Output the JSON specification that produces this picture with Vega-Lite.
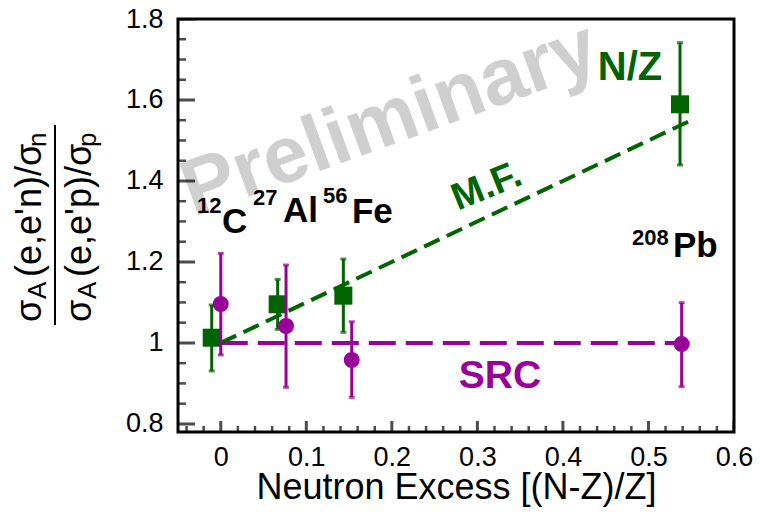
{
  "$schema": "https://vega.github.io/schema/vega-lite/v6.json",
  "width": 556,
  "height": 413,
  "autosize": {"type": "none"},
  "padding": {"left": 178, "top": 19, "right": 27, "bottom": 85},
  "background": "white",
  "config": {
    "view": {"stroke": "black", "strokeWidth": 3},
    "font": "Liberation Sans"
  },
  "datasets": {
    "nz": [
      {"x": -0.0106, "y": 1.0129, "lo": 0.9307, "hi": 1.0937},
      {"x": 0.0665, "y": 1.0954, "lo": 1.0336, "hi": 1.157},
      {"x": 0.1433, "y": 1.1167, "lo": 1.0262, "hi": 1.2073},
      {"x": 0.5369, "y": 1.5893, "lo": 1.4394, "hi": 1.7415}
    ],
    "src": [
      {"x": 0.0, "y": 1.0961, "lo": 0.9702, "hi": 1.2213},
      {"x": 0.0763, "y": 1.0418, "lo": 0.8904, "hi": 1.1924},
      {"x": 0.1531, "y": 0.9578, "lo": 0.8657, "hi": 1.0524},
      {"x": 0.5388, "y": 0.9973, "lo": 0.8919, "hi": 1.0994}
    ],
    "mfline": [{"x": 0.0, "y": 1.0}, {"x": 0.547, "y": 1.547}],
    "srcline": [{"x": 0.0, "y": 1.0}, {"x": 0.548, "y": 1.0}],
    "xmaj": [{"v": 0}, {"v": 0.1}, {"v": 0.2}, {"v": 0.3}, {"v": 0.4}, {"v": 0.5}, {"v": 0.6}],
    "xmin": [{"v": -0.04}, {"v": -0.02}, {"v": 0.02}, {"v": 0.04}, {"v": 0.06}, {"v": 0.08}, {"v": 0.12}, {"v": 0.14}, {"v": 0.16}, {"v": 0.18}, {"v": 0.22}, {"v": 0.24}, {"v": 0.26}, {"v": 0.28}, {"v": 0.32}, {"v": 0.34}, {"v": 0.36}, {"v": 0.38}, {"v": 0.42}, {"v": 0.44}, {"v": 0.46}, {"v": 0.48}, {"v": 0.52}, {"v": 0.54}, {"v": 0.56}, {"v": 0.58}],
    "ymaj": [{"v": 0.8}, {"v": 1.0}, {"v": 1.2}, {"v": 1.4}, {"v": 1.6}, {"v": 1.8}],
    "ymin": [{"v": 0.85}, {"v": 0.9}, {"v": 0.95}, {"v": 1.05}, {"v": 1.1}, {"v": 1.15}, {"v": 1.25}, {"v": 1.3}, {"v": 1.35}, {"v": 1.45}, {"v": 1.5}, {"v": 1.55}, {"v": 1.65}, {"v": 1.7}, {"v": 1.75}],
    "ytmain": [
      {"x": -0.2102, "y": 1.0517, "t": "σ"},
      {"x": -0.2102, "y": 1.1628, "t": "(e,e'n)/σ"},
      {"x": -0.1517, "y": 1.0517, "t": "σ"},
      {"x": -0.1517, "y": 1.1628, "t": "(e,e'p)/σ"}
    ],
    "ytsub": [
      {"x": -0.2043, "y": 1.1085, "t": "A"},
      {"x": -0.2043, "y": 1.4839, "t": "n"},
      {"x": -0.1459, "y": 1.1085, "t": "A"},
      {"x": -0.1459, "y": 1.4839, "t": "p"}
    ],
    "ytbar": [{"x": -0.1938, "y": 1.0442, "y2": 1.5382}],
    "nucmain": [
      {"x": 0.0014, "y": 1.2715, "t": "C"},
      {"x": 0.0728, "y": 1.2986, "t": "Al"},
      {"x": 0.1534, "y": 1.2962, "t": "Fe"},
      {"x": 0.5287, "y": 1.2122, "t": "Pb"}
    ],
    "nucsup": [
      {"x": -0.0278, "y": 1.3209, "t": "12"},
      {"x": 0.0377, "y": 1.3406, "t": "27"},
      {"x": 0.1195, "y": 1.3456, "t": "56"},
      {"x": 0.4807, "y": 1.2418, "t": "208"}
    ],
    "prelim": [{"x": 0.1978, "y": 1.5506, "t": "Preliminary"}],
    "nzlab": [{"x": 0.4784, "y": 1.679, "t": "N/Z"}],
    "mflab": [{"x": 0.3112, "y": 1.3851, "t": "M.F."}],
    "srclab": [{"x": 0.3264, "y": 0.9183, "t": "SRC"}]
  },
  "layer": [
    {
      "data": {"name": "prelim"},
      "mark": {"type": "text", "font": "Liberation Sans", "fontWeight": "bold", "fontSize": 80, "color": "#cfcfcf", "angle": -20, "align": "center", "baseline": "middle"},
      "encoding": {
        "x": {
          "field": "x", "type": "quantitative", "title": "Neutron Excess [(N-Z)/Z]",
          "scale": {"domain": [-0.05, 0.6], "nice": false, "zero": false},
          "axis": {
            "title": "Neutron Excess [(N-Z)/Z]",
            "values": [0, 0.1, 0.2, 0.3, 0.4, 0.5, 0.6],
            "format": ".1~f",
            "ticks": false,
            "domain": false,
            "grid": false,
            "labelFont": "Liberation Sans",
            "labelFontSize": 27,
            "labelColor": "black",
            "labelPadding": 12,
            "labelOverlap": false,
            "labelFlush": false,
            "titleFont": "Liberation Sans",
            "titleFontSize": 36,
            "titleFontWeight": "normal",
            "titleColor": "black",
            "titlePadding": 0
          }
        },
        "y": {
          "field": "y", "type": "quantitative", "title": "",
          "scale": {"domain": [0.78, 1.8], "nice": false, "zero": false},
          "axis": {
            "title": "",
            "values": [0.8, 1, 1.2, 1.4, 1.6, 1.8],
            "format": ".1~f",
            "ticks": false,
            "domain": false,
            "grid": false,
            "labelFont": "Liberation Sans",
            "labelFontSize": 27,
            "labelColor": "black",
            "labelPadding": 15,
            "labelOverlap": false,
            "labelFlush": false
          }
        },
        "text": {"field": "t"}
      }
    },
    {
      "data": {"name": "xmaj"},
      "mark": {"type": "tick", "orient": "vertical", "size": 22, "thickness": 3, "color": "black", "clip": true},
      "encoding": {
        "x": {"field": "v", "type": "quantitative", "title": "Neutron Excess [(N-Z)/Z]"},
        "y": {"datum": 0.78, "type": "quantitative", "title": ""}
      }
    },
    {
      "data": {"name": "xmin"},
      "mark": {"type": "tick", "orient": "vertical", "size": 12, "thickness": 2.5, "color": "black", "clip": true},
      "encoding": {
        "x": {"field": "v", "type": "quantitative", "title": "Neutron Excess [(N-Z)/Z]"},
        "y": {"datum": 0.78, "type": "quantitative", "title": ""}
      }
    },
    {
      "data": {"name": "ymaj"},
      "mark": {"type": "tick", "orient": "horizontal", "size": 34, "thickness": 3, "color": "black", "clip": true},
      "encoding": {
        "y": {"field": "v", "type": "quantitative", "title": ""},
        "x": {"datum": -0.05, "type": "quantitative", "title": "Neutron Excess [(N-Z)/Z]"}
      }
    },
    {
      "data": {"name": "ymin"},
      "mark": {"type": "tick", "orient": "horizontal", "size": 16, "thickness": 2.5, "color": "black", "clip": true},
      "encoding": {
        "y": {"field": "v", "type": "quantitative", "title": ""},
        "x": {"datum": -0.05, "type": "quantitative", "title": "Neutron Excess [(N-Z)/Z]"}
      }
    },
    {
      "data": {"name": "srcline"},
      "mark": {"type": "line", "color": "#990099", "strokeWidth": 4, "strokeDash": [27, 10]},
      "encoding": {
        "x": {"field": "x", "type": "quantitative", "title": "Neutron Excess [(N-Z)/Z]"},
        "y": {"field": "y", "type": "quantitative", "title": ""}
      }
    },
    {
      "data": {"name": "mfline"},
      "mark": {"type": "line", "color": "#006400", "strokeWidth": 4, "strokeDash": [17, 8]},
      "encoding": {
        "x": {"field": "x", "type": "quantitative", "title": "Neutron Excess [(N-Z)/Z]"},
        "y": {"field": "y", "type": "quantitative", "title": ""}
      }
    },
    {
      "data": {"name": "nz"},
      "mark": {"type": "rule", "color": "#006400", "strokeWidth": 3},
      "encoding": {
        "x": {"field": "x", "type": "quantitative", "title": "Neutron Excess [(N-Z)/Z]"},
        "y": {"field": "lo", "type": "quantitative", "title": ""},
        "y2": {"field": "hi", "title": ""}
      }
    },
    {
      "data": {"name": "nz"},
      "mark": {"type": "tick", "orient": "horizontal", "color": "#006400", "size": 6, "thickness": 3},
      "encoding": {
        "x": {"field": "x", "type": "quantitative", "title": "Neutron Excess [(N-Z)/Z]"},
        "y": {"field": "lo", "type": "quantitative", "title": ""}
      }
    },
    {
      "data": {"name": "nz"},
      "mark": {"type": "tick", "orient": "horizontal", "color": "#006400", "size": 6, "thickness": 3},
      "encoding": {
        "x": {"field": "x", "type": "quantitative", "title": "Neutron Excess [(N-Z)/Z]"},
        "y": {"field": "hi", "type": "quantitative", "title": ""}
      }
    },
    {
      "data": {"name": "nz"},
      "mark": {"type": "point", "shape": "square", "filled": true, "color": "#006400", "size": 324, "opacity": 1},
      "encoding": {
        "x": {"field": "x", "type": "quantitative", "title": "Neutron Excess [(N-Z)/Z]"},
        "y": {"field": "y", "type": "quantitative", "title": ""}
      }
    },
    {
      "data": {"name": "src"},
      "mark": {"type": "rule", "color": "#990099", "strokeWidth": 3},
      "encoding": {
        "x": {"field": "x", "type": "quantitative", "title": "Neutron Excess [(N-Z)/Z]"},
        "y": {"field": "lo", "type": "quantitative", "title": ""},
        "y2": {"field": "hi", "title": ""}
      }
    },
    {
      "data": {"name": "src"},
      "mark": {"type": "tick", "orient": "horizontal", "color": "#990099", "size": 6, "thickness": 3},
      "encoding": {
        "x": {"field": "x", "type": "quantitative", "title": "Neutron Excess [(N-Z)/Z]"},
        "y": {"field": "lo", "type": "quantitative", "title": ""}
      }
    },
    {
      "data": {"name": "src"},
      "mark": {"type": "tick", "orient": "horizontal", "color": "#990099", "size": 6, "thickness": 3},
      "encoding": {
        "x": {"field": "x", "type": "quantitative", "title": "Neutron Excess [(N-Z)/Z]"},
        "y": {"field": "hi", "type": "quantitative", "title": ""}
      }
    },
    {
      "data": {"name": "src"},
      "mark": {"type": "point", "shape": "circle", "filled": true, "color": "#990099", "size": 254, "opacity": 1},
      "encoding": {
        "x": {"field": "x", "type": "quantitative", "title": "Neutron Excess [(N-Z)/Z]"},
        "y": {"field": "y", "type": "quantitative", "title": ""}
      }
    },
    {
      "data": {"name": "nucmain"},
      "mark": {"type": "text", "font": "Liberation Sans", "fontWeight": "bold", "fontSize": 35, "color": "black", "align": "left", "baseline": "alphabetic"},
      "encoding": {
        "x": {"field": "x", "type": "quantitative", "title": "Neutron Excess [(N-Z)/Z]"},
        "y": {"field": "y", "type": "quantitative", "title": ""},
        "text": {"field": "t"}
      }
    },
    {
      "data": {"name": "nucsup"},
      "mark": {"type": "text", "font": "Liberation Sans", "fontWeight": "bold", "fontSize": 22, "color": "black", "align": "left", "baseline": "alphabetic"},
      "encoding": {
        "x": {"field": "x", "type": "quantitative", "title": "Neutron Excess [(N-Z)/Z]"},
        "y": {"field": "y", "type": "quantitative", "title": ""},
        "text": {"field": "t"}
      }
    },
    {
      "data": {"name": "nzlab"},
      "mark": {"type": "text", "font": "Liberation Sans", "fontWeight": "bold", "fontSize": 40, "color": "#006400", "align": "center", "baseline": "middle"},
      "encoding": {
        "x": {"field": "x", "type": "quantitative", "title": "Neutron Excess [(N-Z)/Z]"},
        "y": {"field": "y", "type": "quantitative", "title": ""},
        "text": {"field": "t"}
      }
    },
    {
      "data": {"name": "mflab"},
      "mark": {"type": "text", "font": "Liberation Sans", "fontWeight": "bold", "fontSize": 38, "color": "#006400", "align": "center", "baseline": "middle", "angle": -22},
      "encoding": {
        "x": {"field": "x", "type": "quantitative", "title": "Neutron Excess [(N-Z)/Z]"},
        "y": {"field": "y", "type": "quantitative", "title": ""},
        "text": {"field": "t"}
      }
    },
    {
      "data": {"name": "srclab"},
      "mark": {"type": "text", "font": "Liberation Sans", "fontWeight": "bold", "fontSize": 39, "color": "#990099", "align": "center", "baseline": "middle"},
      "encoding": {
        "x": {"field": "x", "type": "quantitative", "title": "Neutron Excess [(N-Z)/Z]"},
        "y": {"field": "y", "type": "quantitative", "title": ""},
        "text": {"field": "t"}
      }
    },
    {
      "data": {"name": "ytmain"},
      "mark": {"type": "text", "font": "Liberation Sans", "fontSize": 36, "color": "black", "align": "left", "baseline": "alphabetic", "angle": 270},
      "encoding": {
        "x": {"field": "x", "type": "quantitative", "title": "Neutron Excess [(N-Z)/Z]"},
        "y": {"field": "y", "type": "quantitative", "title": ""},
        "text": {"field": "t"}
      }
    },
    {
      "data": {"name": "ytsub"},
      "mark": {"type": "text", "font": "Liberation Sans", "fontSize": 26, "color": "black", "align": "left", "baseline": "alphabetic", "angle": 270},
      "encoding": {
        "x": {"field": "x", "type": "quantitative", "title": "Neutron Excess [(N-Z)/Z]"},
        "y": {"field": "y", "type": "quantitative", "title": ""},
        "text": {"field": "t"}
      }
    },
    {
      "data": {"name": "ytbar"},
      "mark": {"type": "rule", "color": "black", "strokeWidth": 2},
      "encoding": {
        "x": {"field": "x", "type": "quantitative", "title": "Neutron Excess [(N-Z)/Z]"},
        "y": {"field": "y", "type": "quantitative", "title": ""},
        "y2": {"field": "y2", "title": ""}
      }
    }
  ]
}
